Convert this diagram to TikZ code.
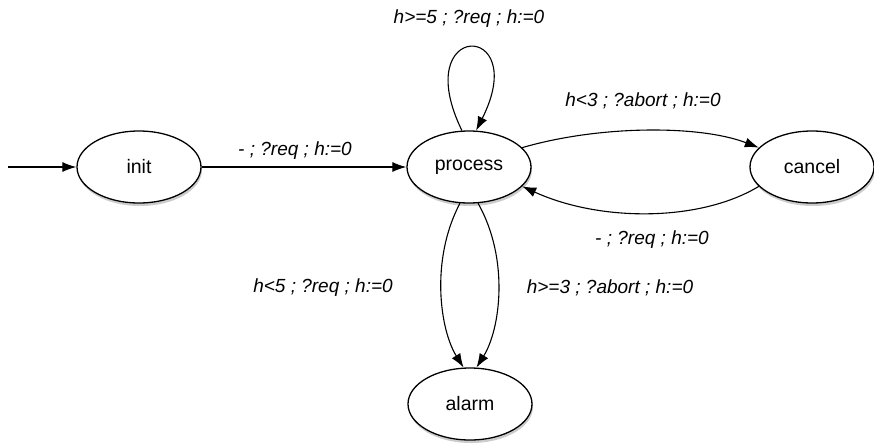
\documentclass[tikz,border=0pt]{standalone}
\usepackage{fontspec}
\setmainfont{Liberation Sans}
\usetikzlibrary{arrows.meta,shapes.geometric,shadows}
\begin{document}
\begin{tikzpicture}[x=1pt,y=-1pt,
  state/.style={ellipse,draw,line width=1.3pt,fill=white,minimum width=124pt,minimum height=72pt,inner sep=0pt,
    font=\fontsize{19.5}{21}\selectfont,
    drop shadow={opacity=0.4,shadow xshift=1pt,shadow yshift=-3pt}},
  edge/.style={line width=1.1pt,-{Latex[length=14pt,width=10pt]}},
  lbl/.style={font=\fontsize{19}{21}\selectfont\itshape,inner sep=0pt}]
\useasboundingbox (0,0) rectangle (874,447);
\node[state] (init) at (139,167) {init};
\node[state] (process) at (469,167) {process};
\node[state] (cancel) at (812,167) {cancel};
\node[state] (alarm) at (470,404) {alarm};
\coordinate (start) at (8,167);
\draw[edge] (start) -- (init);
\draw[edge] (init) -- (process);
\node[lbl] (l1) at (295,151) {- ; ?req ; h:=0};
\draw[edge] (process.101) .. controls (408,20) and (532,20) .. (process.79);
\node[lbl] (l2) at (469,19) {h>=5 ; ?req ; h:=0};
\draw[edge] (process.20) .. controls (600,125) and (700,125) .. (cancel.160);
\node[lbl] (l3) at (643,101) {h<3 ; ?abort ; h:=0};
\draw[edge] (cancel.200) .. controls (700,222) and (600,222) .. (process.340);
\node[lbl] (l4) at (652,240) {- ; ?req ; h:=0};
\draw[edge] (process.256) .. controls (430,260) and (440,330) .. (alarm.100);
\node[lbl] (l5) at (323,288) {h<5 ; ?req ; h:=0};
\draw[edge] (process.284) .. controls (510,260) and (500,330) .. (alarm.80);
\node[lbl] (l6) at (610,288) {h>=3 ; ?abort ; h:=0};
\end{tikzpicture}
\end{document}
